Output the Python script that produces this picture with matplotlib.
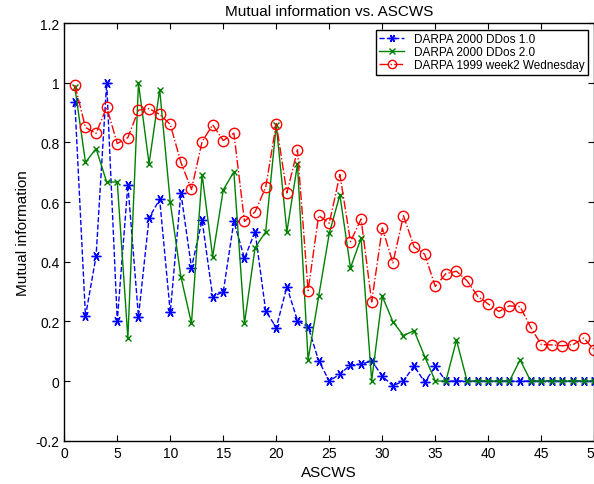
import numpy as np
import matplotlib.pyplot as plt

plt.rcParams['font.family'] = ['Liberation Sans', 'DejaVu Sans']

ascws = np.arange(1, 51)

ddos1 = [0.934, 0.217, 0.418, 1.0, 0.202, 0.658, 0.216, 0.547, 0.609, 0.230,
         0.631, 0.380, 0.539, 0.283, 0.299, 0.535, 0.411, 0.501, 0.235, 0.179,
         0.316, 0.202, 0.182, 0.068, 0.0, 0.023, 0.054, 0.056, 0.068, 0.016,
         -0.016, 0.0, 0.051, -0.004, 0.049, 0.0, 0.0, 0.0, 0.0, 0.0,
         0.0, 0.0, 0.0, 0.0, 0.0, 0.0, 0.0, 0.0, 0.0, 0.0]

ddos2 = [0.984, 0.733, 0.779, 0.667, 0.667, 0.144, 0.998, 0.728, 0.977, 0.599,
         0.350, 0.193, 0.692, 0.417, 0.641, 0.701, 0.193, 0.447, 0.500, 0.858,
         0.500, 0.727, 0.071, 0.284, 0.495, 0.624, 0.379, 0.479, 0.001, 0.284,
         0.199, 0.152, 0.169, 0.082, 0.0, 0.0, 0.137, 0.0, 0.0, 0.0,
         0.0, 0.0, 0.071, 0.0, 0.0, 0.0, 0.0, 0.0, 0.0, 0.0]

week2 = [0.992, 0.850, 0.830, 0.918, 0.796, 0.816, 0.908, 0.913, 0.894, 0.860,
         0.733, 0.642, 0.802, 0.859, 0.806, 0.831, 0.535, 0.567, 0.649, 0.863,
         0.630, 0.775, 0.303, 0.555, 0.529, 0.692, 0.467, 0.543, 0.265, 0.513,
         0.396, 0.554, 0.450, 0.425, 0.317, 0.360, 0.368, 0.336, 0.284, 0.258,
         0.233, 0.252, 0.249, 0.180, 0.122, 0.121, 0.118, 0.122, 0.144, 0.104]

fig = plt.figure(figsize=(5.94, 4.85), dpi=100)
ax = fig.add_axes([0.1082, 0.0893, 0.8923, 0.8612])

# matlab-like asterisk: 3 strokes, one vertical
ax.plot(ascws, ddos1, '--', color='blue', marker=(6, 2, 90), markersize=7,
        linewidth=1, label='DARPA 2000 DDos 1.0')
ax.plot(ascws, ddos2, '-', color=(0, 0.5, 0), marker='x', markersize=5,
        linewidth=1, label='DARPA 2000 DDos 2.0')
ax.plot(ascws, week2, '-.', color='red', marker='o', markersize=7.5,
        markerfacecolor='none', linewidth=1, label='DARPA 1999 week2 Wednesday')

ax.set_xlim(0, 50)
ax.set_ylim(-0.2, 1.2)
ax.set_xticks(np.arange(0, 51, 5))
ax.set_yticks([-0.2, 0, 0.2, 0.4, 0.6, 0.8, 1.0, 1.2])
ax.set_yticklabels(['-0.2', '0', '0.2', '0.4', '0.6', '0.8', '1', '1.2'])
ax.tick_params(direction='in', top=True, right=True, labelsize=10, length=4)
for s in ax.spines.values():
    s.set_linewidth(1)

ax.set_title('Mutual information vs. ASCWS', fontsize=11)
ax.set_xlabel('ASCWS', fontsize=11)
ax.set_ylabel('Mutual information', fontsize=11)

leg = ax.legend(loc='upper right', fontsize=8.5, fancybox=False, framealpha=1,
                edgecolor='black', borderaxespad=0.55, handlelength=2.1,
                handletextpad=0.8, labelspacing=0.1, borderpad=0.3,
                markerscale=0.8)
leg.get_frame().set_linewidth(1)

fig.savefig('out.png', dpi=100)
